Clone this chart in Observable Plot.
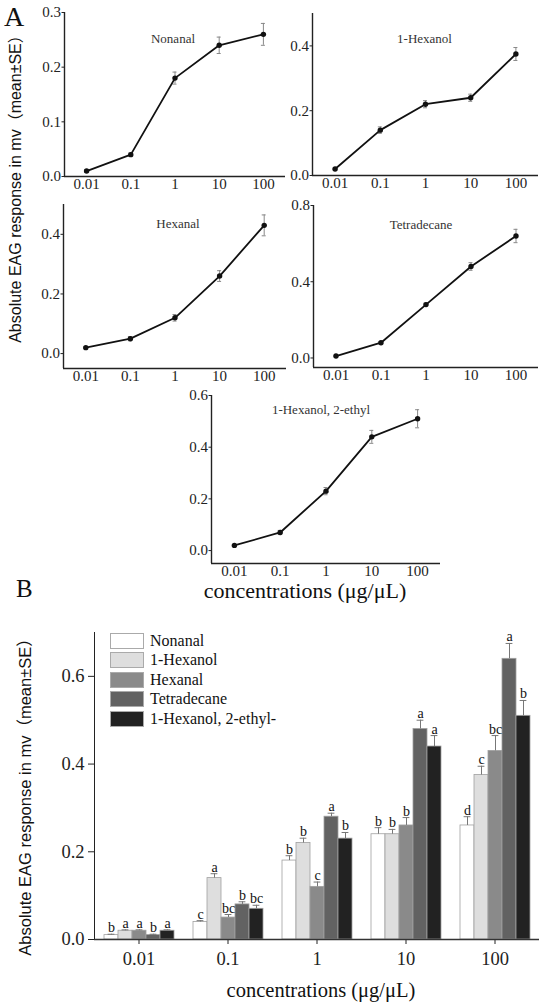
<!DOCTYPE html>
<html>
<head>
<meta charset="utf-8">
<script src="https://cdn.jsdelivr.net/npm/d3@7"></script>
<script src="https://cdn.jsdelivr.net/npm/@observablehq/plot@0.6"></script>
<style>
  html, body { margin: 0; padding: 0; background: #fff; }
  #root { position: relative; width: 550px; height: 1006px; background: #fff; overflow: hidden;
          font-family: "Liberation Serif", "Times New Roman", serif; color: #111; }
  .abs { position: absolute; }
  .rot { position: absolute; white-space: nowrap; transform: translate(-50%, -50%) rotate(-90deg);
         font-family: "Liberation Sans", Arial, "Noto Sans CJK SC", sans-serif; color: #111; line-height: 1; }
  .lbl { position: absolute; white-space: nowrap; line-height: 1; }
  .leg-row { position: absolute; left: 0; height: 17px; display: flex; align-items: center; white-space: nowrap; font-size: 16px; }
  .sw { width: 34px; height: 16px; border: 1px solid #aaa; box-sizing: border-box; margin-right: 6px; }
</style>
</head>
<body>
<div id="root"></div>
<script>
// ---------- data ----------
const concentrations = [0.01, 0.1, 1, 10, 100];
const concLabels = ["0.01", "0.1", "1", "10", "100"];
const compounds = ["Nonanal", "1-Hexanol", "Hexanal", "Tetradecane", "1-Hexanol, 2-ethyl-"];
const titlesA = ["Nonanal", "1-Hexanol", "Hexanal", "Tetradecane", "1-Hexanol, 2-ethyl"];

const nonanal      = [0.01, 0.04, 0.18, 0.24, 0.26];
const hexanol1     = [0.02, 0.14, 0.22, 0.24, 0.375];
const hexanal      = [0.02, 0.05, 0.12, 0.26, 0.43];
const tetradecane  = [0.01, 0.08, 0.28, 0.48, 0.64];
const ethylhexanol = [0.02, 0.07, 0.23, 0.44, 0.51];

const nonanalSE      = [0.002, 0.003, 0.011, 0.015, 0.02];
const hexanol1SE     = [0.002, 0.01, 0.011, 0.011, 0.02];
const hexanalSE      = [0.002, 0.007, 0.011, 0.018, 0.035];
const tetradecaneSE  = [0.002, 0.006, 0.008, 0.02, 0.035];
const ethylhexanolSE = [0.002, 0.008, 0.014, 0.025, 0.035];

const nonanalLetters      = ["b", "c", "b", "b", "d"];
const hexanol1Letters     = ["a", "a", "b", "b", "c"];
const hexanalLetters      = ["a", "bc", "c", "b", "bc"];
const tetradecaneLetters  = ["b", "b", "a", "a", "a"];
const ethylhexanolLetters = ["a", "bc", "b", "a", "b"];

const meansAll = [nonanal, hexanol1, hexanal, tetradecane, ethylhexanol];
const seAll = [nonanalSE, hexanol1SE, hexanalSE, tetradecaneSE, ethylhexanolSE];
const lettersAll = [nonanalLetters, hexanol1Letters, hexanalLetters, tetradecaneLetters, ethylhexanolLetters];

const yDomainsA = [[0, 0.3], [0, 0.5], [-0.05, 0.5], [-0.05, 0.8], [-0.05, 0.6]];
const yTicksA = [[0, 0.1, 0.2, 0.3], [0, 0.2, 0.4], [0, 0.2, 0.4], [0, 0.4, 0.8], [0, 0.2, 0.4, 0.6]];
const yTicksB = [0, 0.2, 0.4, 0.6];
const barColors = ["#ffffff", "#dedede", "#8a8a8a", "#626262", "#222222"];

// ---------- layout (positions only) ----------
const layoutA = [
  {left: 30,  top: 0,   width: 260, height: 200, mL: 34, mR: 5,  mT: 12, mB: 24, tdy: 21, tdx: -2},
  {left: 278, top: 0,   width: 270, height: 200, mL: 34, mR: 10, mT: 13, mB: 25, tdy: 20, tdx: -1},
  {left: 30,  top: 190, width: 260, height: 200, mL: 33, mR: 4,  mT: 14, mB: 22, tdy: 14, tdx: 3},
  {left: 278, top: 190, width: 270, height: 200, mL: 35, mR: 10, mT: 15, mB: 23, tdy: 14, tdx: -5},
  {left: 175, top: 385, width: 275, height: 200, mL: 36, mR: 10, mT: 10, mB: 22, tdy: 9,  tdx: -5}
];

const root = document.getElementById("root");
function place(el, left, top, width) {
  const w = document.createElement("div");
  w.className = "abs";
  w.style.left = left + "px";
  w.style.top = top + "px";
  if (width) w.style.width = width + "px";
  w.appendChild(el);
  root.appendChild(w);
  return w;
}
function label(text, css) {
  const d = document.createElement("div");
  d.className = "lbl";
  d.textContent = text;
  Object.assign(d.style, css);
  root.appendChild(d);
  return d;
}

const xDomainA = [concentrations[0] / Math.sqrt(10), concentrations[concentrations.length - 1] * Math.sqrt(10)];
const fmt1 = d3.format(".1f");
const serif = '"Liberation Serif", "Times New Roman", serif';

// ---------- Panel A ----------
titlesA.forEach((title, k) => {
  const L = layoutA[k];
  const data = concentrations.map((c, i) => ({c, v: meansAll[k][i], e: seAll[k][i]}));
  const p = Plot.plot({
    width: L.width, height: L.height,
    marginLeft: L.mL, marginRight: L.mR, marginTop: L.mT, marginBottom: L.mB,
    style: {fontFamily: serif, fontSize: "15px", color: "#222", background: "none", overflow: "visible"},
    x: {type: "log", domain: xDomainA, label: null},
    y: {domain: yDomainsA[k], label: null},
    marks: [
      Plot.axisX({ticks: concentrations, tickFormat: d => concLabels[concentrations.indexOf(d)],
                  tickSize: 0, tickPadding: 1.5, fontSize: 15, fontFamily: serif, label: null}),
      Plot.axisY({ticks: yTicksA[k], tickFormat: fmt1, tickSize: 2.5, tickPadding: 1,
                  fontSize: 15, fontFamily: serif, label: null}),
      Plot.ruleX([xDomainA[0]], {stroke: "#222", strokeWidth: 1.4}),
      Plot.ruleY([yDomainsA[k][0]], {stroke: "#222", strokeWidth: 1.4}),
      Plot.ruleX(data, {x: "c", y1: d => d.v - d.e, y2: d => d.v + d.e, stroke: "#888", strokeWidth: 1}),
      Plot.ruleY(data, {y: d => d.v + d.e, x1: "c", x2: "c", insetLeft: -2, insetRight: -2, stroke: "#888", strokeWidth: 1}),
      Plot.ruleY(data, {y: d => d.v - d.e, x1: "c", x2: "c", insetLeft: -2, insetRight: -2, stroke: "#888", strokeWidth: 1}),
      Plot.line(data, {x: "c", y: "v", stroke: "#111", strokeWidth: 1.8}),
      Plot.dot(data, {x: "c", y: "v", r: 2.7, fill: "#111"}),
      Plot.text([title], {frameAnchor: "top", dy: L.tdy, dx: L.tdx, fontSize: 13, fontFamily: serif, fill: "#333"})
    ]
  });
  place(p, L.left, L.top, L.width);
});

label("A", {left: "4px", top: "3px", fontSize: "28px"});
label("concentrations (μg/μL)", {left: "305px", top: "591px", transform: "translate(-50%, -50%)", fontSize: "22px"});
const ytA = document.createElement("div");
ytA.className = "rot";
ytA.textContent = "Absolute EAG response in mv（mean±SE）";
Object.assign(ytA.style, {left: "16px", top: "185px", fontSize: "16px"});
root.appendChild(ytA);

// ---------- Panel B ----------
const rows = compounds.flatMap((name, j) => concLabels.map((c, i) => ({
  conc: c, compound: name, mean: meansAll[j][i], se: seAll[j][i], letter: lettersAll[j][i]
})));

const pB = Plot.plot({
  width: 550, height: 406,
  marginLeft: 92, marginRight: 10, marginTop: 32, marginBottom: 67,
  style: {fontFamily: serif, fontSize: "18.5px", color: "#222", background: "none", overflow: "visible"},
  fx: {domain: concLabels, padding: 0, label: null},
  x: {domain: compounds, paddingInner: 0, paddingOuter: 0.6, axis: null},
  y: {domain: [0, 0.7], ticks: yTicksB, tickFormat: fmt1, tickSize: 6, tickPadding: 4, label: null, line: true},
  color: {domain: compounds, range: barColors},
  marks: [
    Plot.axisFx({anchor: "bottom", tickSize: 5, tickPadding: 7, fontSize: 18.5, fontFamily: serif, label: null}),
    Plot.barY(rows, {fx: "conc", x: "compound", y: "mean", fill: "compound", stroke: "#a0a0a0", strokeWidth: 0.8, inset: 0}),
    Plot.ruleX(rows, {fx: "conc", x: "compound", y1: "mean", y2: d => d.mean + d.se, stroke: "#777", strokeWidth: 1}),
    Plot.tickY(rows, {fx: "conc", x: "compound", y: d => d.mean + d.se, stroke: "#777", strokeWidth: 1, inset: 3.6}),
    Plot.text(rows, {fx: "conc", x: "compound", y: d => d.mean + d.se, text: "letter", dy: -2, lineAnchor: "bottom", fontSize: 14, fontFamily: serif, fill: "#111"}),
    Plot.ruleY([0], {stroke: "#333", strokeWidth: 1.3})
  ]
});
place(pB, 0, 600, 550);

label("B", {left: "16px", top: "576px", fontSize: "25px"});
label("concentrations (μg/μL)", {left: "321px", top: "990px", transform: "translate(-50%, -50%)", fontSize: "20.5px"});
const ytB = document.createElement("div");
ytB.className = "rot";
ytB.textContent = "Absolute EAG response in mv（mean±SE）";
Object.assign(ytB.style, {left: "25px", top: "793px", fontSize: "16.5px"});
root.appendChild(ytB);

// legend
const leg = document.createElement("div");
leg.className = "abs";
Object.assign(leg.style, {left: "110px", top: "632px", width: "200px", height: "100px"});
compounds.forEach((name, j) => {
  const r = document.createElement("div");
  r.className = "leg-row";
  r.style.top = (j * 19.5) + "px";
  const s = document.createElement("div");
  s.className = "sw";
  s.style.background = barColors[j];
  const t = document.createElement("span");
  t.textContent = name;
  r.appendChild(s); r.appendChild(t);
  leg.appendChild(r);
});
root.appendChild(leg);
</script>
</body>
</html>
